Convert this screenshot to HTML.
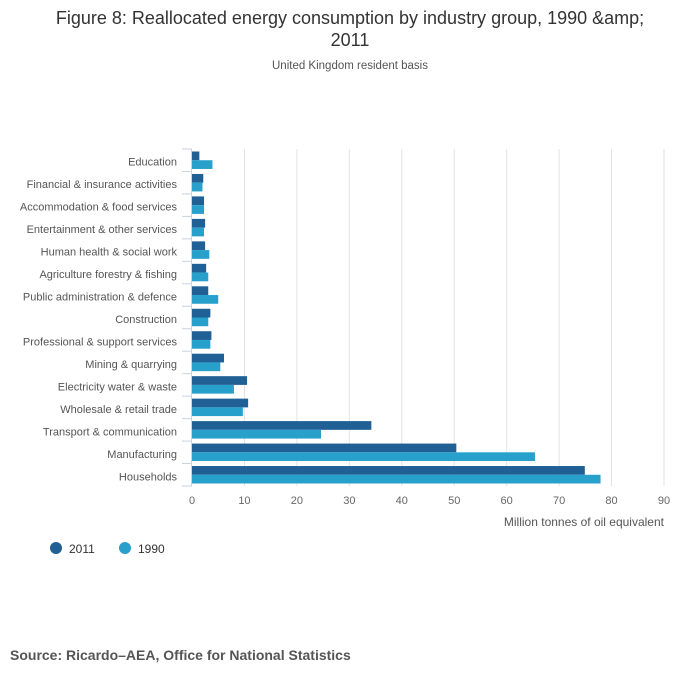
<!DOCTYPE html>
<html><head><meta charset="utf-8"><style>
body{margin:0;background:#fff;font-family:"Liberation Sans",sans-serif;}
svg text{font-family:"Liberation Sans",sans-serif;}
</style></head><body>
<svg id="c" width="700" height="682" xmlns="http://www.w3.org/2000/svg">
<text x="350" y="24" text-anchor="middle" font-size="18" fill="#333">Figure 8: Reallocated energy consumption by industry group, 1990 &amp;amp;</text>
<text x="350" y="46" text-anchor="middle" font-size="18" fill="#333">2011</text>
<text x="350" y="69" text-anchor="middle" font-size="11.5" fill="#555">United Kingdom resident basis</text>
<g id="grid"></g><g id="bars"></g><g id="axes"></g>
<text x="664" y="526" text-anchor="end" font-size="12" fill="#555">Million tonnes of oil equivalent</text>
<g>
<circle cx="56" cy="548" r="6" fill="#206095"/>
<text x="69" y="553" font-size="12" fill="#333">2011</text>
<circle cx="125" cy="548" r="6" fill="#27a0cc"/>
<text x="138" y="553" font-size="12" fill="#333">1990</text>
</g>
<text x="10" y="660" font-size="14" font-weight="bold" fill="#555">Source: Ricardo–AEA, Office for National Statistics</text>
</svg>
<script>
const categories=["Education","Financial & insurance activities","Accommodation & food services","Entertainment & other services","Human health & social work","Agriculture forestry & fishing","Public administration & defence","Construction","Professional & support services","Mining & quarrying","Electricity water & waste","Wholesale & retail trade","Transport & communication","Manufacturing","Households"];
const values2011=[1.4,2.15,2.3,2.5,2.5,2.7,3.1,3.5,3.7,6.1,10.5,10.7,34.2,50.4,74.9];
const values1990=[3.9,2.0,2.3,2.3,3.3,3.1,5.0,3.1,3.5,5.4,8.0,9.7,24.6,65.4,77.9];
const ticks=[0,10,20,30,40,50,60,70,80,90];
const NS="http://www.w3.org/2000/svg";
const x0=192,x1=664,y0=149,y1=486,xmax=90;
const xs=v=>x0+v/xmax*(x1-x0);
const band=(y1-y0)/categories.length;
const ys=i=>y0+i*band;
function mk(t,a,p){const e=document.createElementNS(NS,t);for(const k in a)e.setAttribute(k,a[k]);p.appendChild(e);return e;}
const grid=document.getElementById('grid'),bars=document.getElementById('bars'),axes=document.getElementById('axes');
ticks.forEach(t=>{
 if(t>0){const l=mk('line',{x1:xs(t),x2:xs(t),y1:y0,y2:y1,stroke:'#e3e3e3','stroke-width':1},grid);
 
 }
 const tx=mk('text',{x:xs(t),y:504,'text-anchor':'middle','font-size':11,fill:'#666'},axes);
 tx.textContent=t;
 
 
});
const ax=mk('line',{x1:x0-0.5,x2:x0-0.5,y1:y0,y2:y1,stroke:'#c8d2e0','stroke-width':1},axes);


for(let i=0;i<=categories.length;i++){
 const tk=mk('line',{x1:x0-10,x2:x0,y1:ys(i),y2:ys(i),stroke:'#c8d2e0','stroke-width':1},axes);
 
 
}
const bh=(band-5)/2;
categories.forEach((c,i)=>{
 const lb=mk('text',{x:177,y:ys(i)+band/2+5.5,'text-anchor':'end','font-size':11,fill:'#555'},axes);
 lb.textContent=c;
 
 
 const a=mk('rect',{x:x0,y:ys(i)+2.5,width:xs(values2011[i])-x0,height:bh,fill:'#206095'},bars);
 
 
 const b=mk('rect',{x:x0,y:ys(i)+2.5+bh,width:xs(values1990[i])-x0,height:bh,fill:'#27a0cc'},bars);
 
 
});
</script>
</body></html>
